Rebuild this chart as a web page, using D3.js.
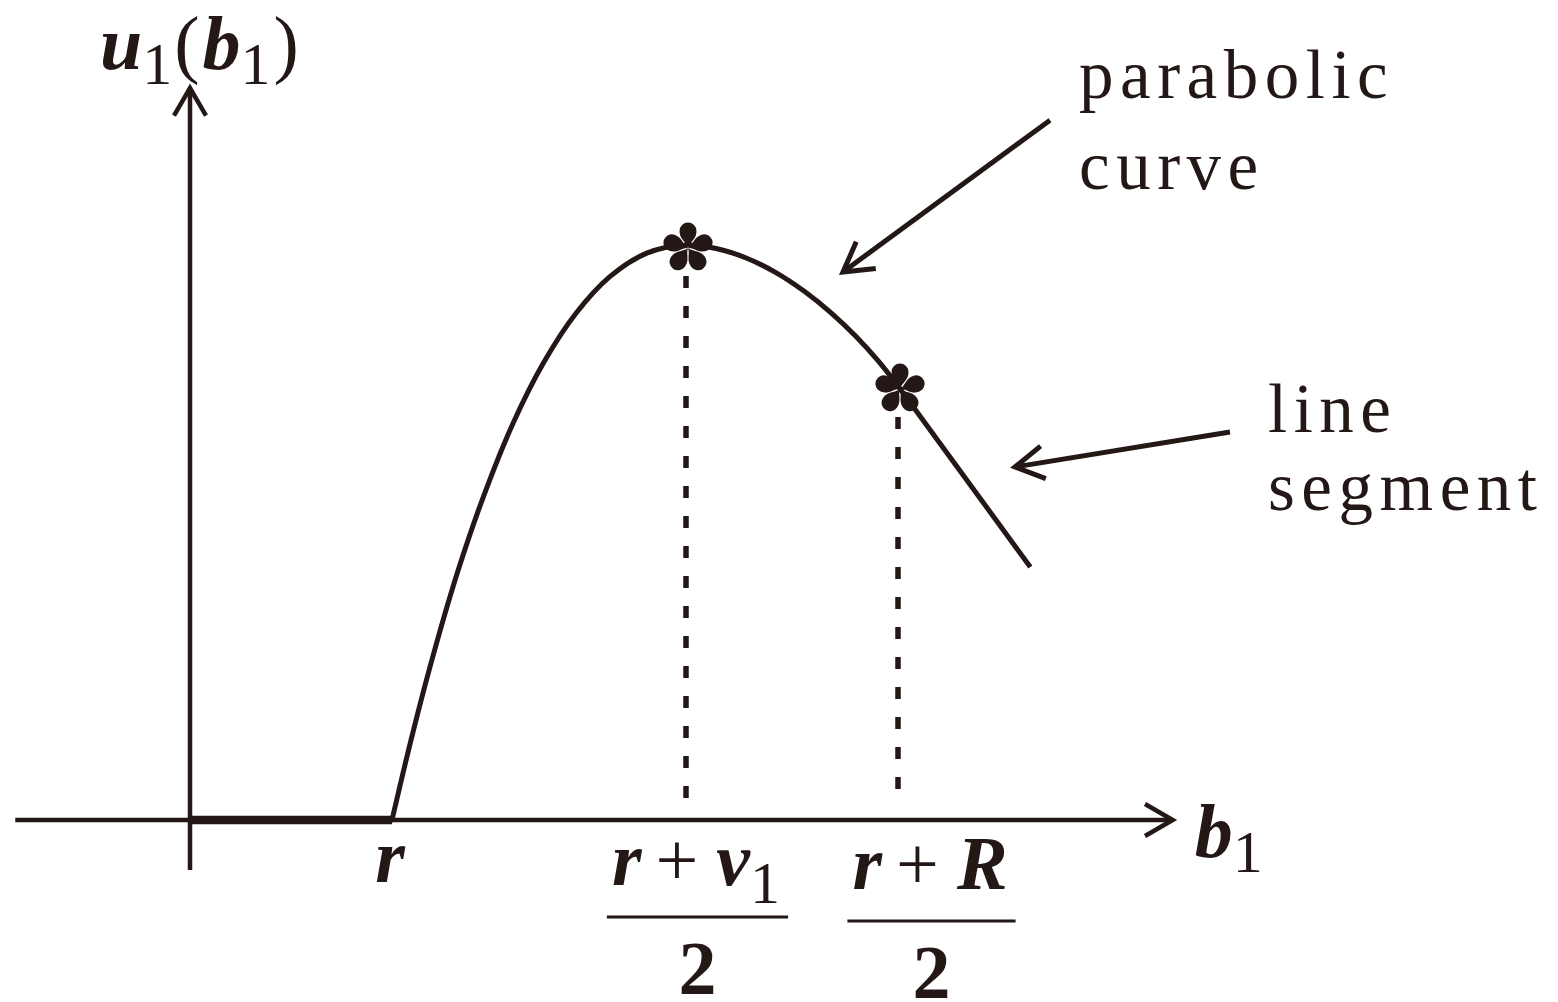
<!DOCTYPE html>
<html>
<head>
<meta charset="utf-8">
<script src="https://cdn.jsdelivr.net/npm/d3@7"></script>
<style>
  html, body { margin: 0; padding: 0; background: #ffffff; }
  svg { display: block; }
  text { font-family: "Liberation Serif", "Times New Roman", Tinos, Times, serif; fill: #231815; }
</style>
</head>
<body>
<svg id="chart" width="1558" height="1002"></svg>
<script>
// ---------------- DATA (abstract units) ----------------
// parabolic part of u1(b1), from b1 = r up to b1 = (r+R)/2
const curveB = [2.000, 2.206, 2.428, 2.666, 2.925, 3.201, 3.499, 3.818, 4.157, 4.523, 4.911,
                5.209, 5.507, 5.801, 6.082, 6.350, 6.597, 6.818, 7.010];
const curveU = [0.000, 1.517, 2.993, 4.403, 5.717, 6.908, 7.946, 8.803, 9.449, 9.859, 10.000,
                9.940, 9.774, 9.520, 9.195, 8.817, 8.405, 7.976, 7.548];
// straight line segment after (r+R)/2
const segmentB = [7.010, 8.320];
const segmentU = [7.548, 4.400];
// zero part between 0 and r
const zeroB = [0.00, 2.00];
const zeroU = [0.00, 0.00];
// starred points
const markerB = [4.911, 7.010];
const markerU = [10.000, 7.548];
// axis extents
const xAxisB = [-1.73, 9.73];
const yAxisU = [-0.87, 12.73];
// annotation arrows: [startB, startU, tipB, tipU]
const annoArrows = [
  [8.515, 12.17, 6.465, 9.53],
  [10.297, 6.748, 8.168, 6.139]
];
const annoText = [["parabolic", "curve"], ["line", "segment"]];

// ---------------- SCALES ----------------
const ink = "#231815";
const svg = d3.select("#chart");
const x = d3.scaleLinear().domain([0, 10]).range([190, 1200]);
const y = d3.scaleLinear().domain([0, 10]).range([820, 245]);

function arrowHead(tx, ty, sx, sy, L, a) {
  const th = Math.atan2(sy - ty, sx - tx);
  const p1 = [tx + L * Math.cos(th + a), ty + L * Math.sin(th + a)];
  const p2 = [tx + L * Math.cos(th - a), ty + L * Math.sin(th - a)];
  return `M${p1[0]},${p1[1]}L${tx},${ty}L${p2[0]},${p2[1]}`;
}

// ---------------- AXES ----------------
const ax = svg.append("g");
ax.append("line")
  .attr("x1", x(xAxisB[0])).attr("x2", x(xAxisB[1]) - 2)
  .attr("y1", y(0)).attr("y2", y(0))
  .attr("stroke", ink).attr("stroke-width", 4.5);
ax.append("path")
  .attr("d", arrowHead(x(xAxisB[1]), y(0), x(xAxisB[0]), y(0), 32, Math.PI / 6))
  .attr("fill", "none").attr("stroke", ink).attr("stroke-width", 4.5);
ax.append("line")
  .attr("x1", x(0)).attr("x2", x(0))
  .attr("y1", y(yAxisU[0])).attr("y2", y(yAxisU[1]) + 2)
  .attr("stroke", ink).attr("stroke-width", 4.5);
ax.append("path")
  .attr("d", arrowHead(x(0), y(yAxisU[1]), x(0), y(yAxisU[0]), 32, Math.PI / 6))
  .attr("fill", "none").attr("stroke", ink).attr("stroke-width", 4.5);

// ---------------- CURVES ----------------
const zeroPts = zeroB.map((b, i) => [b, zeroU[i]]);
const curvePts = curveB.map((b, i) => [b, curveU[i]]);
const segPts = segmentB.map((b, i) => [b, segmentU[i]]);

svg.append("path")
  .attr("d", d3.line().x(d => x(d[0])).y(d => y(d[1]))(zeroPts))
  .attr("fill", "none").attr("stroke", ink).attr("stroke-width", 8.5);

svg.append("path")
  .attr("d", d3.line().x(d => x(d[0])).y(d => y(d[1])).curve(d3.curveCatmullRom.alpha(0.5))(curvePts))
  .attr("fill", "none").attr("stroke", ink).attr("stroke-width", 5)
  .attr("stroke-linecap", "round");

svg.append("path")
  .attr("d", d3.line().x(d => x(d[0])).y(d => y(d[1]))(segPts))
  .attr("fill", "none").attr("stroke", ink).attr("stroke-width", 5);

// dotted drop lines
markerB.forEach((b, i) => {
  svg.append("line")
    .attr("x1", x(b)).attr("x2", x(b))
    .attr("y1", y(markerU[i]) + 31).attr("y2", y(0) - 14)
    .attr("stroke", ink).attr("stroke-width", 5.5)
    .attr("stroke-dasharray", "12,18");
});

// asterisk markers
function petal(R, rad) {
  return `M0,0 C-1.5,${-R * 0.35} ${-rad},${-R * 0.5} ${-rad},${-R}` +
         ` A${rad},${rad} 0 1 1 ${rad},${-R}` +
         ` C${rad},${-R * 0.5} 1.5,${-R * 0.35} 0,0Z`;
}
markerB.forEach((b, i) => {
  const g = svg.append("g").attr("transform", `translate(${x(b) + 2},${y(markerU[i]) + 3})`);
  for (let k = 0; k < 5; k++) {
    g.append("path").attr("d", petal(17, 8.5))
      .attr("transform", `rotate(${k * 72})`)
      .attr("fill", ink);
  }
});

// ---------------- ANNOTATION ARROWS ----------------
annoArrows.forEach(a => {
  const sx = x(a[0]), sy = y(a[1]), tx = x(a[2]), ty = y(a[3]);
  svg.append("line").attr("x1", sx).attr("y1", sy).attr("x2", tx + (sx - tx) * 0.01).attr("y2", ty + (sy - ty) * 0.01)
    .attr("stroke", ink).attr("stroke-width", 5);
  svg.append("path").attr("d", arrowHead(tx, ty, sx, sy, 33, Math.PI / 6))
    .attr("fill", "none").attr("stroke", ink).attr("stroke-width", 5).attr("stroke-miterlimit", 10);
});

const noteStyle = t => t.attr("font-size", 69).attr("letter-spacing", 6.5);
noteStyle(svg.append("text").attr("x", 1079).attr("y", 98).text(annoText[0][0]));
noteStyle(svg.append("text").attr("x", 1079).attr("y", 189).text(annoText[0][1]));
noteStyle(svg.append("text").attr("x", 1268).attr("y", 432).text(annoText[1][0]));
noteStyle(svg.append("text").attr("x", 1268).attr("y", 510).text(annoText[1][1]));

// ---------------- MATH LABELS ----------------
const MAIN = 76, SUB = 60, SUBDY = 19;
function bi(t, s) { t.attr("font-weight", "bold").attr("font-style", "italic").attr("font-size", MAIN).text(s); }

// y-axis title u1(b1)
{
  const t = svg.append("text").attr("x", 100).attr("y", 69);
  t.append("tspan").call(bi, "u");
  t.append("tspan").attr("font-size", SUB).attr("dy", SUBDY - 4).text("1");
  t.append("tspan").attr("font-size", MAIN).attr("dy", -SUBDY + 4).attr("dx", 2).text("(");
  t.append("tspan").attr("dx", 3).call(bi, "b");
  t.append("tspan").attr("font-size", SUB).attr("dy", SUBDY - 4).text("1");
  t.append("tspan").attr("font-size", MAIN).attr("dy", -SUBDY + 4).attr("dx", 3).text(")");
}
// x-axis title b1
{
  const t = svg.append("text").attr("x", x(xAxisB[1]) + 22).attr("y", 857);
  t.append("tspan").call(bi, "b");
  t.append("tspan").attr("font-size", SUB).attr("dy", SUBDY - 4).text("1");
}
// tick label r
svg.append("text").attr("x", x(curveB[0]) - 2).attr("y", 882)
  .attr("text-anchor", "middle").call(bi, "r");

// fractional tick labels
const fracNum = [["r", "v", "1"], ["r", "R", ""]];
const fracShift = [[10, 0], [32, 4]];
markerB.forEach((b, i) => {
  const cx = x(b) + fracShift[i][0], dy = fracShift[i][1];
  const t = svg.append("text").attr("x", cx).attr("y", 885 + dy).attr("text-anchor", "middle");
  t.append("tspan").call(bi, fracNum[i][0]);
  t.append("tspan").attr("font-size", MAIN).attr("dx", 14).text("+");
  t.append("tspan").attr("dx", 18).call(bi, fracNum[i][1]);
  if (fracNum[i][2]) t.append("tspan").attr("font-size", SUB).attr("dy", SUBDY - 1).text(fracNum[i][2]);
  const bb = t.node().getBBox();
  svg.append("line")
    .attr("x1", bb.x - 5).attr("x2", bb.x + bb.width + 8)
    .attr("y1", 917 + dy).attr("y2", 917 + dy)
    .attr("stroke", ink).attr("stroke-width", 3);
  svg.append("text").attr("x", (bb.x - 5 + bb.x + bb.width + 8) / 2).attr("y", 994 + dy)
    .attr("text-anchor", "middle").attr("font-weight", "bold").attr("font-size", 76).text("2");
});
</script>
</body>
</html>
